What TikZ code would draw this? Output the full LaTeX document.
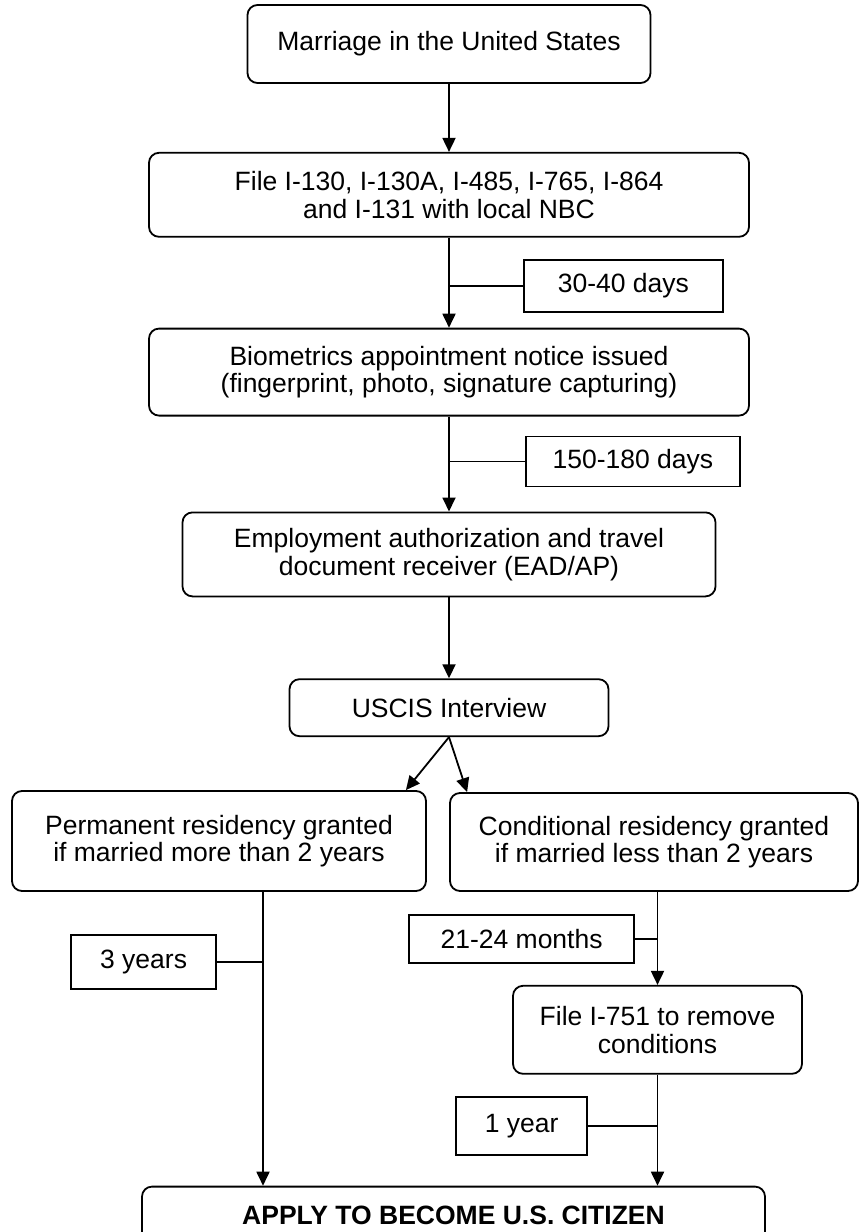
\documentclass[tikz,border=0pt]{standalone}
\usepackage{fontspec}
\setmainfont{Liberation Sans}
\usepackage{tikz}
\usetikzlibrary{arrows.meta,positioning}

\begin{document}
\begin{tikzpicture}[x=1pt,y=-1pt,>={Triangle[width=13pt,length=14pt]},line width=1.8pt]
	\tikzstyle{stage} = [draw, rectangle, rounded corners=10pt, align=center, inner sep=0pt, font=\fontsize{26.5}{27.5}\selectfont]
	\tikzstyle{delay} = [draw, rectangle, inner sep=0pt, font=\fontsize{26.5}{27.5}\selectfont]
	
	\useasboundingbox (0,0) rectangle (859,1232);
	
	\node [stage, minimum width=403pt, minimum height=78pt] (marriage) at (449,44) {Marriage in the United States};
	\node [stage, below = 68pt of marriage, minimum width=600pt, minimum height=84pt] (filing) {File I-130, I-130A, I-485, I-765, I-864\\and I-131 with local NBC};
	\node [coordinate, below = 48pt of filing] (j1) {};
	\node [delay, right = 74pt of j1, minimum width=199pt, minimum height=52pt] (d1) {30-40 days};
	
	\node [stage, below = 90pt of filing, minimum width=600pt, minimum height=87pt] (biometrics) {Biometrics appointment notice issued\\(fingerprint, photo, signature capturing)};
	\node [coordinate, below = 45pt of biometrics] (j2) {};
	\node [delay, right = 76pt of j2, minimum width=214pt, minimum height=50pt] (d2) {150-180 days};
	
	\node [stage, below = 95pt of biometrics, minimum width=533pt, minimum height=84pt] (ead) {Employment authorization and travel\\document receiver (EAD/AP)};
	\node [stage, below = 81pt of ead, minimum width=319pt, minimum height=57pt] (interview) {USCIS Interview};
	
	\node [stage, below = 53pt of interview, xshift=-230pt, minimum width=414pt, minimum height=100pt] (perm) {Permanent residency granted\\if married more than 2 years};
	\node [stage, below = 55pt of interview, xshift=205pt, minimum width=408pt, minimum height=98pt] (cond) {Conditional residency granted\\if married less than 2 years};
	
	\node [coordinate, below = 70pt of perm, xshift=44pt] (j3) {};
	\node [delay, left = 46pt of j3, minimum width=145pt, minimum height=54pt] (d3) {3 years};
	
	\node [coordinate, below = 47pt of cond, xshift=3.5pt] (j4) {};
	\node [delay, left = 22.5pt of j4, minimum width=225pt, minimum height=48pt] (d4) {21-24 months};
	\node [stage, below = 93pt of cond, xshift=3.5pt, minimum width=289pt, minimum height=88pt] (i751) {File I-751 to remove\\conditions};
	\node [coordinate, below = 51pt of i751] (j5) {};
	\node [delay, left = 69.5pt of j5, minimum width=131pt, minimum height=58pt] (d5) {1 year};
	
	\node [stage, below = 111pt of i751, xshift=-204pt, minimum width=623pt, minimum height=57pt, font=\fontsize{26.5}{27.5}\selectfont\bfseries] (citizen) {APPLY TO BECOME U.S. CITIZEN};
	
	\draw [->] (marriage) -- (filing);
	\draw [->] (filing) -- (biometrics);
	\draw [-] (j1) -- (d1);
	\draw [->] (biometrics) -- (ead);
	\draw [-] (j2) -- (d2);
	\draw [->] (ead) -- (interview);
	\draw [->] (interview.south) -- ([xshift=-21pt]perm.north east);
	\draw [->] (interview.south) -- ([xshift=18pt]cond.north west);
	\draw [->] (j3 |- perm.south) -- (j3 |- citizen.north);
	\draw [-] (d3) -- (j3);
	\draw [->] (j4 |- cond.south) -- (i751);
	\draw [-] (d4) -- (j4);
	\draw [->] (i751) -- (j5 |- citizen.north);
	\draw [-] (d5) -- (j5);
\end{tikzpicture}
\end{document}
